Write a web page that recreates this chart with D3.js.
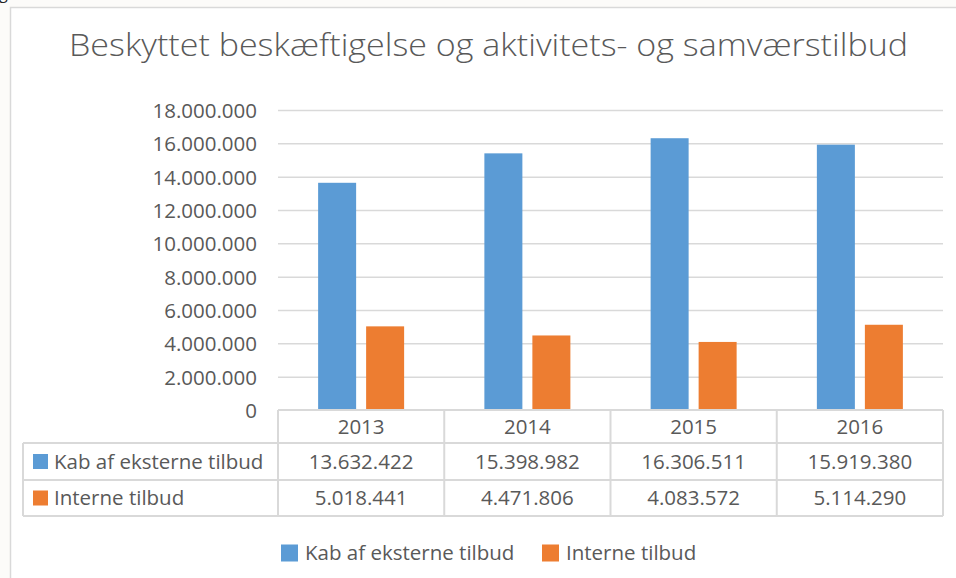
<!DOCTYPE html>
<html>
<head>
<meta charset="utf-8">
<script src="https://cdn.jsdelivr.net/npm/d3@7"></script>
<style>
  body { margin: 0; background: #fcfbf9; }
  svg { display: block; }
</style>
</head>
<body>
<svg id="chart" width="956" height="578"></svg>
<script>
    // chart data
    var years = ["2013", "2014", "2015", "2016"];
    var seriesNames = ["Kab af eksterne tilbud", "Interne tilbud"];
    var eksterne = [13632422, 15398982, 16306511, 15919380];
    var interne = [5018441, 4471806, 4083572, 5114290];
    var yTicks = [0, 2000000, 4000000, 6000000, 8000000, 10000000, 12000000, 14000000, 16000000, 18000000];
    var colors = ["#5b9bd5", "#ed7d31"];

    var series = [eksterne, interne];
    var textColor = "#595959";
    var lineColor = "#d9d9d9";
    var font = "'Open Sans', sans-serif";
    var fs = 20.5;

    var dk = d3.formatLocale({ decimal: ",", thousands: ".", grouping: [3], currency: ["", " kr."] });
    var fmt = dk.format(",d");

    var svg = d3.select("#chart");

    // bit of the caption above the chart
    svg.append("text")
        .attr("x", -1).attr("y", -1)
        .attr("font-family", font).attr("font-size", 16).attr("fill", "#222")
        .text("g");

    // chart area
    svg.append("rect")
        .attr("x", 10.5).attr("y", 7.5)
        .attr("width", 960).attr("height", 600)
        .attr("fill", "#fff")
        .attr("stroke", "#d9d9d9").attr("stroke-width", 1.5);

    svg.append("text")
        .attr("x", 69).attr("y", 56)
        .attr("textLength", 839).attr("lengthAdjust", "spacingAndGlyphs")
        .attr("font-family", font)
        .attr("font-weight", 300)
        .attr("font-size", 31)
        .attr("fill", textColor)
        .text("Beskyttet beskæftigelse og aktivitets- og samværstilbud");

    var plotLeft = 278, plotRight = 943, plotTop = 110, plotBottom = 410;

    var x = d3.scaleBand().domain(years).range([plotLeft, plotRight]);
    var y = d3.scaleLinear().domain([0, 18000000]).range([plotBottom, plotTop]);

    // gridlines + y labels
    var yAxis = d3.axisLeft(y).tickValues(yTicks).tickFormat(fmt)
        .tickSize(-(plotRight - plotLeft)).tickPadding(21);
    var gy = svg.append("g").attr("transform", "translate(" + plotLeft + ",0)").call(yAxis);
    gy.select(".domain").remove();
    gy.selectAll(".tick line").attr("stroke", lineColor).attr("stroke-width", 1.5)
        .filter(function(d) { return d === 0; }).remove();
    gy.selectAll(".tick text")
        .attr("font-family", font).attr("font-size", fs).attr("fill", textColor)
        .attr("dy", "0.36em");

    // bars
    var barW = 38, gap = 10;
    series.forEach(function(vals, s) {
        svg.append("g").selectAll("rect")
            .data(vals)
            .enter()
            .append("rect")
            .attr("x", (d, i) => x(years[i]) + x.bandwidth() / 2 + (s === 0 ? -gap / 2 - barW : gap / 2))
            .attr("y", d => y(d))
            .attr("width", barW)
            .attr("height", d => plotBottom - y(d))
            .attr("fill", colors[s]);
    });

    // data table
    var tableLeft = 23;
    var rowY = [plotBottom, 443, 480, 516];
    var tg = svg.append("g")
        .attr("stroke", lineColor).attr("stroke-width", 2).attr("fill", "none");
    tg.append("line").attr("x1", plotLeft).attr("x2", plotRight).attr("y1", rowY[0]).attr("y2", rowY[0]);
    [1, 2, 3].forEach(function(r) {
        tg.append("line").attr("x1", tableLeft).attr("x2", plotRight).attr("y1", rowY[r]).attr("y2", rowY[r]);
    });
    tg.append("line").attr("x1", tableLeft).attr("x2", tableLeft).attr("y1", rowY[1]).attr("y2", rowY[3]);
    years.forEach(function(yr) {
        tg.append("line").attr("x1", x(yr)).attr("x2", x(yr)).attr("y1", rowY[0]).attr("y2", rowY[3]);
    });
    tg.append("line").attr("x1", plotRight).attr("x2", plotRight).attr("y1", rowY[0]).attr("y2", rowY[3]);

    svg.append("g").selectAll("text")
        .data(years)
        .enter()
        .append("text")
        .attr("x", d => x(d) + x.bandwidth() / 2)
        .attr("y", (rowY[0] + rowY[1]) / 2)
        .attr("dy", "0.36em")
        .attr("text-anchor", "middle")
        .attr("font-family", font).attr("font-size", fs).attr("fill", textColor)
        .text(d => d);

    series.forEach(function(vals, s) {
        var cy = (rowY[s + 1] + rowY[s + 2]) / 2;
        svg.append("rect")
            .attr("x", 33).attr("y", cy - 7.5)
            .attr("width", 15).attr("height", 15)
            .attr("fill", colors[s]);
        svg.append("text")
            .attr("x", 54).attr("y", cy).attr("dy", "0.36em")
            .attr("font-family", font).attr("font-size", fs).attr("fill", textColor)
            .text(seriesNames[s]);
        svg.append("g").selectAll("text")
            .data(vals)
            .enter()
            .append("text")
            .attr("x", (d, i) => x(years[i]) + x.bandwidth() / 2)
            .attr("y", cy).attr("dy", "0.36em")
            .attr("text-anchor", "middle")
            .attr("font-family", font).attr("font-size", fs).attr("fill", textColor)
            .text(d => fmt(d));
    });

    // legend
    var legendX = [281, 542];
    var lg = svg.append("g").selectAll("g")
        .data(seriesNames)
        .enter()
        .append("g")
        .attr("transform", (d, i) => "translate(" + legendX[i] + ",553)");
    lg.append("rect").attr("x", 0).attr("y", -8.5).attr("width", 17).attr("height", 17)
        .attr("fill", (d, i) => colors[i]);
    lg.append("text").attr("x", 24).attr("dy", "0.36em")
        .attr("font-family", font).attr("font-size", fs).attr("fill", textColor)
        .text(d => d);
</script>
</body>
</html>
